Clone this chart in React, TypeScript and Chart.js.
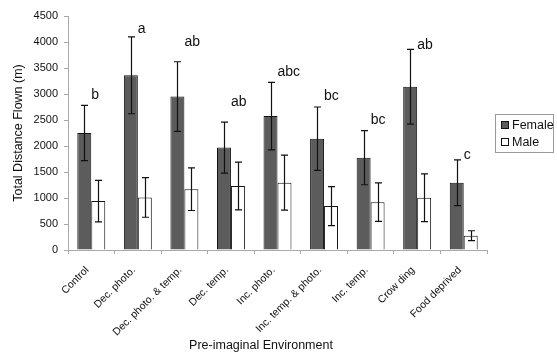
import React, { useEffect, useRef } from "react";
import { Chart, registerables } from "chart.js";

Chart.register(...registerables);

const categories = [
  "Control",
  "Dec. photo.",
  "Dec. photo. & temp.",
  "Dec. temp.",
  "Inc. photo.",
  "Inc. temp. & photo.",
  "Inc. temp.",
  "Crow ding",
  "Food deprived",
];
const femaleValues = [2250, 3360, 2950, 1970, 2575, 2140, 1775, 3140, 1295];
const femaleErrors = [530, 740, 670, 490, 650, 610, 520, 720, 440];
const maleValues = [940, 1010, 1170, 1230, 1295, 845, 920, 1005, 275];
const maleErrors = [400, 380, 410, 460, 530, 375, 370, 460, 95];
const letters = ["b", "a", "ab", "ab", "abc", "bc", "bc", "ab", "c"];
const letterLevels = [2980, 4250, 4000, 2850, 3420, 2960, 2500, 3940, 1830];
const yTicks = [0, 500, 1000, 1500, 2000, 2500, 3000, 3500, 4000, 4500];
const xTitle = "Pre-imaginal Environment";
const yTitle = "Total Distance Flown (m)";

const FONT = "'Liberation Sans', Arial, sans-serif";

const errorBarPlugin = {
  id: "errorBars",
  afterDatasetsDraw(chart: any) {
    const ctx = chart.ctx;
    const yScale = chart.scales.y;
    const errs = [femaleErrors, maleErrors];
    ctx.save();
    ctx.strokeStyle = "#111";
    ctx.lineWidth = 1.2;
    chart.data.datasets.forEach((ds: any, di: number) => {
      const meta = chart.getDatasetMeta(di);
      meta.data.forEach((bar: any, i: number) => {
        const v = ds.data[i];
        const e = errs[di][i];
        const x = Math.round(bar.x) + 0.5;
        const yt = yScale.getPixelForValue(v + e);
        const yb = yScale.getPixelForValue(v - e);
        ctx.beginPath();
        ctx.moveTo(x, yt);
        ctx.lineTo(x, yb);
        ctx.moveTo(x - 3.5, yt);
        ctx.lineTo(x + 3.5, yt);
        ctx.moveTo(x - 3.5, yb);
        ctx.lineTo(x + 3.5, yb);
        ctx.stroke();
      });
    });
    // significance letters
    const meta0 = chart.getDatasetMeta(0);
    ctx.fillStyle = "#111";
    ctx.font = `14px ${FONT}`;
    ctx.textAlign = "left";
    ctx.textBaseline = "middle";
    meta0.data.forEach((bar: any, i: number) => {
      const y = yScale.getPixelForValue(letterLevels[i]);
      ctx.fillText(letters[i], bar.x + 7, y);
    });
    // x-axis title
    ctx.font = `12.5px ${FONT}`;
    ctx.textAlign = "center";
    ctx.textBaseline = "middle";
    ctx.fillText(xTitle, 261, 346);
    // legend
    const lx = 495, ly = 114, lw = 58, lh = 38;
    ctx.strokeStyle = "#999";
    ctx.lineWidth = 1;
    ctx.strokeRect(lx + 0.5, ly + 0.5, lw, lh);
    ctx.font = `12.5px ${FONT}`;
    ctx.textAlign = "left";
    const items = [
      { label: "Female", color: "#5c5c5c", y: ly + 11 },
      { label: "Male", color: "#ffffff", y: ly + 28 },
    ];
    items.forEach((it) => {
      ctx.fillStyle = it.color;
      ctx.fillRect(lx + 6.5, it.y - 3.5, 7, 7);
      ctx.strokeStyle = "#111";
      ctx.strokeRect(lx + 6.5, it.y - 3.5, 7, 7);
      ctx.fillStyle = "#111";
      ctx.fillText(it.label, lx + 17, it.y + 0.5);
    });
    ctx.restore();
  },
};

export default function App() {
  const ref = useRef<HTMLCanvasElement>(null);
  useEffect(() => {
    document.body.style.margin = "0";
    const chart = new Chart(ref.current as HTMLCanvasElement, {
      type: "bar",
      data: {
        labels: categories,
        datasets: [
          {
            label: "Female",
            data: femaleValues,
            backgroundColor: "#5c5c5c",
            borderColor: "#111",
            borderWidth: 1,
            categoryPercentage: 0.6,
            barPercentage: 1,
          },
          {
            label: "Male",
            data: maleValues,
            backgroundColor: "#ffffff",
            borderColor: "#111",
            borderWidth: 1,
            categoryPercentage: 0.6,
            barPercentage: 1,
          },
        ],
      },
      options: {
        animation: false,
        responsive: false,
        layout: { padding: { top: 16, right: 70, left: 0, bottom: 0 } },
        plugins: { legend: { display: false }, tooltip: { enabled: false } },
        scales: {
          x: {
            afterFit: (s: any) => {
              s.height = 103;
            },
            grid: {
              display: true,
              offset: true,
              drawOnChartArea: false,
              tickLength: 4,
              color: "#aaa",
            },
            border: { color: "#aaa", width: 1 },
            ticks: {
              color: "#111",
              font: { family: FONT, size: 10.5 },
              maxRotation: 45,
              minRotation: 45,
              autoSkip: false,
              padding: 10,
              labelOffset: -4,
            },
            title: { display: false },
          },
          y: {
            min: 0,
            max: 4500,
            afterFit: (s: any) => {
              s.width = 68;
            },
            afterBuildTicks: (s: any) => {
              s.ticks = yTicks.map((v) => ({ value: v }));
            },
            grid: {
              display: true,
              drawOnChartArea: false,
              tickLength: 4,
              color: "#aaa",
            },
            border: { color: "#aaa", width: 1 },
            ticks: {
              color: "#111",
              font: { family: FONT, size: 11 },
              padding: 6,
              callback: (v: any) => String(v),
            },
            title: {
              display: true,
              text: yTitle,
              color: "#111",
              font: { family: FONT, size: 12.5 },
              padding: { top: 11, bottom: 0 },
            },
          },
        },
      },
      plugins: [errorBarPlugin],
    });
    return () => chart.destroy();
  }, []);
  return (
    <div style={{ width: 557, height: 353 }}>
      <canvas ref={ref} width={557} height={353} style={{ display: "block" }} />
    </div>
  );
}
